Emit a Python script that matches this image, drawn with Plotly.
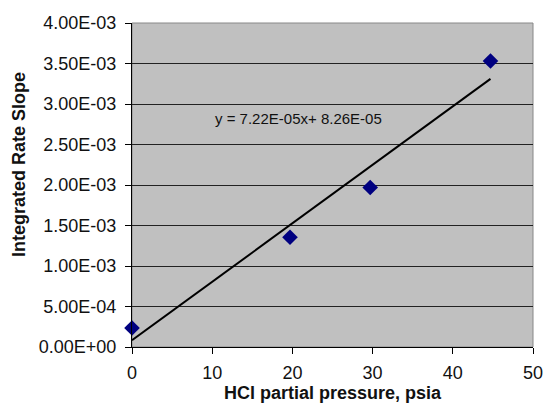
import plotly.graph_objects as go

pressure = [0.0, 19.7, 29.7, 44.7]
rate_slope = [2.35e-4, 1.355e-3, 1.97e-3, 3.53e-3]
fit_slope = 7.22e-05
fit_intercept = 8.26e-05
fit_x = [0.0, 44.7]
fit_y = [fit_slope * x + fit_intercept for x in fit_x]

y_tickvals = [0, 5e-4, 1e-3, 1.5e-3, 2e-3, 2.5e-3, 3e-3, 3.5e-3, 4e-3]
y_ticktext = ["0.00E+00", "5.00E-04", "1.00E-03", "1.50E-03", "2.00E-03",
              "2.50E-03", "3.00E-03", "3.50E-03", "4.00E-03"]
x_tickvals = [0, 10, 20, 30, 40, 50]

W, H = 543, 404
L, R, T, B = 132, 10, 23, 57
PW, PH = W - L - R, H - T - B

fig = go.Figure()
fig.add_trace(go.Scatter(x=fit_x, y=fit_y, mode="lines",
                         line=dict(color="black", width=2), showlegend=False,
                         cliponaxis=False))
fig.add_trace(go.Scatter(x=pressure, y=rate_slope, mode="markers",
                         marker=dict(symbol="diamond", color="#000080", size=12),
                         showlegend=False, cliponaxis=False))

fig.add_annotation(x=10.1, y=2.82e-3, xref="x", yref="y", xanchor="left",
                   text="y = 7.22E-05x+ 8.26E-05", showarrow=False,
                   font=dict(family="Liberation Sans, Arial", size=15, color="#111"))

fig.add_annotation(x=(19 - L) / PW, y=1 - (165 - T) / PH, xref="paper", yref="paper",
                   xanchor="center", yanchor="middle",
                   text="<b>Integrated Rate Slope</b>", textangle=-90, showarrow=False,
                   font=dict(family="Liberation Sans, Arial", size=18, color="#111"))

fig.update_layout(
    width=W, height=H,
    margin=dict(l=L, r=R, t=T, b=B, autoexpand=False),
    paper_bgcolor="white", plot_bgcolor="#C0C0C0",
    font=dict(family="Liberation Sans, Arial", size=18, color="#111"),
    xaxis=dict(range=[0, 50], tickvals=x_tickvals, ticks="outside", ticklen=6,
               tickcolor="black", showline=True, linecolor="black", linewidth=1,
               mirror=False, showgrid=False, zeroline=False, automargin=False,
               ticklabelstandoff=3, ticklabeloverflow="allow",
               title=dict(text="<b>HCl partial pressure, psia</b>", standoff=3,
                          font=dict(size=18))),
    yaxis=dict(range=[0, 4e-3], tickvals=y_tickvals, ticktext=y_ticktext,
               ticks="outside", ticklen=6, tickcolor="black", automargin=False,
               ticklabelstandoff=5, ticklabeloverflow="allow",
               showline=True, linecolor="black", linewidth=1,
               showgrid=True, gridcolor="#222", gridwidth=1, zeroline=False),
)
fig.add_shape(type="rect", xref="paper", yref="paper", x0=0, y0=0, x1=1, y1=1,
              line=dict(color="#888", width=1), layer="below")

fig.write_html("out.html", post_script="document.body.style.margin='0';",
               config={"displayModeBar": False})
